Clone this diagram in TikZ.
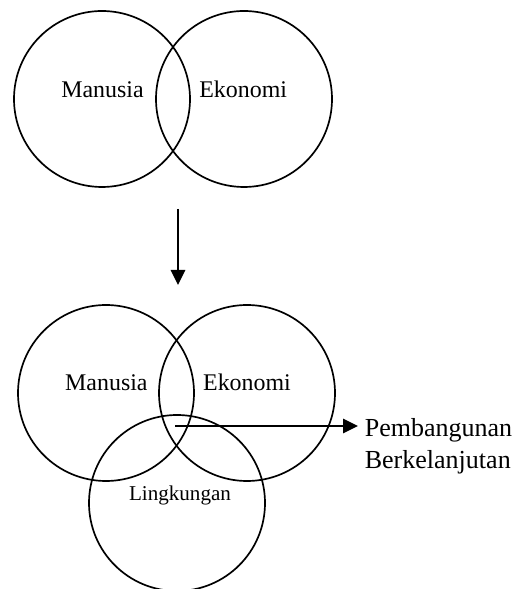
\documentclass[tikz,border=0pt]{standalone}
\usepackage{fontspec}
\setmainfont{Liberation Serif}
\usepackage{tikz}
\usetikzlibrary{arrows.meta}

\begin{document}
\begin{tikzpicture}[line width=1.2pt]
    \useasboundingbox (0,0) rectangle (13.15,14.725);

    \begin{scope}[every node/.style={circle,line width=1.2pt,draw,minimum size=4.4cm,inner sep=0pt}]
        \node (M1) at (2.55,12.25) {};
        \node (E1) at (6.1,12.25) {};
        \node (M2) at (2.65,4.9) {};
        \node (E2) at (6.175,4.9) {};
        \node (L2) at (4.425,2.15) {};
    \end{scope}

    \begin{scope}[every node/.style={anchor=base,inner sep=0pt,font=\fontsize{17}{20}\selectfont}]
        \node (m1) at (2.5625,12.275) {Manusia};
        \node (e1) at (6.08,12.275) {Ekonomi};
        \node (m2) at (2.66,4.95) {Manusia};
        \node (e2) at (6.175,4.95) {Ekonomi};
        \node[font=\fontsize{15}{18}\selectfont] (l2) at (4.5,2.21) {Lingkungan};
    \end{scope}

    \begin{scope}[every node/.style={anchor=base west,inner sep=0pt,font=\fontsize{18.5}{22}\selectfont}]
        \node (pb) at (9.1,3.8) {Pembangunan};
        \node (bk) at (9.1,3.0) {Berkelanjutan};
    \end{scope}

    \coordinate (a1) at (4.45,9.5);
    \coordinate (a2) at (4.45,7.6);
    \coordinate (c) at (4.375,4.075);
    \coordinate (t) at (8.95,4.075);

    \begin{scope}[-{Triangle[length=0.375cm,width=0.36cm]}]
        \draw (a1) -- (a2);
        \draw (c) -- (t);
    \end{scope}
\end{tikzpicture}
\end{document}
